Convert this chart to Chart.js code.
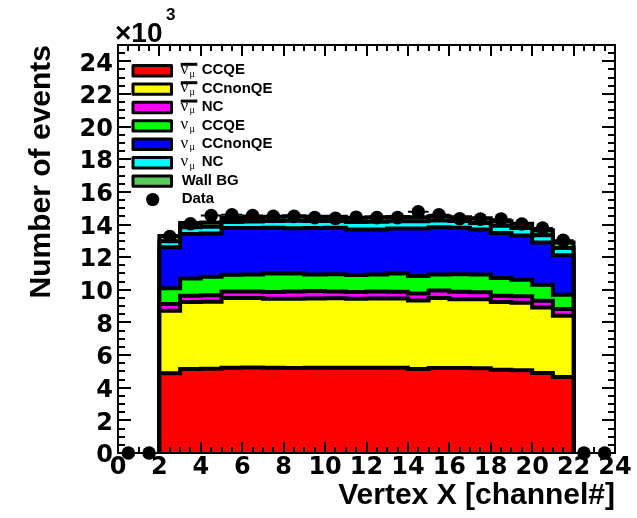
<!DOCTYPE html>
<html>
<head>
<meta charset="utf-8">
<script src="https://cdn.jsdelivr.net/npm/chart.js@4.4.1/dist/chart.umd.min.js"></script>
<style>
  html, body { margin: 0; padding: 0; background: #fff; }
  canvas { display: block; }
</style>
</head>
<body>
<canvas id="c" width="637" height="518"></canvas>
<script>
// Bin edges of the filled channels (bins 2..21, upper edge 22)
const binEdges = [2, 3, 4, 5, 6, 7, 8, 9, 10, 11, 12, 13, 14, 15, 16, 17, 18, 19, 20, 21, 22];

// Predicted events per bin, one array per component (bottom of stack first)
const antiNumuCCQE    = [4880, 5150, 5170, 5230, 5240, 5220, 5210, 5220, 5230, 5220, 5220, 5220, 5150, 5210, 5210, 5200, 5100, 5070, 4900, 4660];
const antiNumuCCnonQE = [3840, 4100, 4100, 4270, 4260, 4230, 4240, 4250, 4250, 4230, 4250, 4240, 4200, 4290, 4210, 4220, 4150, 4130, 4020, 3750];
const antiNumuNC      = [ 410,  390,  390,  400,  400,  420,  450,  450,  420,  410,  430,  420,  430,  450,  460,  430,  390,  400,  410,  410];
const numuCCQE        = [ 960, 1060, 1140, 1020, 1030, 1130, 1100, 1010, 1050, 1040, 1030, 1120, 1070,  980, 1080, 1080, 1080, 1020,  980,  880];
const numuCCnonQE     = [2510, 2720, 2650, 2860, 2850, 2800, 2770, 2850, 2850, 2800, 2770, 2750, 2900, 2900, 2840, 2770, 2760, 2710, 2590, 2410];
const numuNC          = [ 370,  410,  410,  370,  400,  420,  460,  440,  420,  450,  470,  450,  450,  420,  420,  400,  440,  450,  450,  450];
const wallBG          = [ 330,  270,  260,  250,  240,  260,  270,  260,  260,  270,  270,  260,  250,  250,  230,  280,  280,  270,  300,  340];

// Observed data, one point per channel centre
const dataCenters = [0.5, 1.5, 2.5, 3.5, 4.5, 5.5, 6.5, 7.5, 8.5, 9.5, 10.5, 11.5, 12.5, 13.5, 14.5, 15.5, 16.5, 17.5, 18.5, 19.5, 20.5, 21.5, 22.5, 23.5];
const dataCounts  = [0, 0, 13270, 14050, 14550, 14600, 14550, 14500, 14500, 14420, 14380, 14450, 14420, 14420, 14780, 14600, 14350, 14330, 14330, 14030, 13780, 13030, 0, 0];

// Axis tick labels
const xTicks = [0, 2, 4, 6, 8, 10, 12, 14, 16, 18, 20, 22, 24];
const yTicks = [0, 2000, 4000, 6000, 8000, 10000, 12000, 14000, 16000, 18000, 20000, 22000, 24000];

// Legend entries
const seriesParticle = ['antinumu', 'antinumu', 'antinumu', 'numu', 'numu', 'numu', ''];
const seriesChannel  = ['CCQE', 'CCnonQE', 'NC', 'CCQE', 'CCnonQE', 'NC', 'Wall BG'];
const seriesColors   = ['#ff0000', '#ffff00', '#ff00ff', '#00ff00', '#0000ff', '#00ffff', '#58cc58'];
const dataLabel = 'Data';

const layerValues = [antiNumuCCQE, antiNumuCCnonQE, antiNumuNC, numuCCQE, numuCCnonQE, numuNC, wallBG];

// Build cumulative step outlines for the stacked histogram
const running = antiNumuCCQE.map(() => 0);
const lastEdge = binEdges[binEdges.length - 1];
const layerDatasets = layerValues.map((vals, k) => {
  vals.forEach((v, i) => { running[i] += v; });
  const top = running.slice();
  const pts = [{ x: binEdges[0], y: 0 }];
  top.forEach((v, i) => pts.push({ x: binEdges[i], y: v }));
  pts.push({ x: lastEdge, y: top[top.length - 1] });
  pts.push({ x: lastEdge, y: 0 });
  return {
    label: seriesChannel[k],
    data: pts,
    stepped: 'before',
    fill: 'origin',
    backgroundColor: seriesColors[k],
    borderColor: '#000',
    borderWidth: 4,
    borderJoinStyle: 'miter',
    pointRadius: 0
  };
});

const dataDataset = {
  label: dataLabel,
  data: dataCenters.map((x, i) => ({ x, y: dataCounts[i] })),
  showLine: false,
  fill: false,
  pointRadius: 6.8,
  pointHoverRadius: 6.8,
  pointBackgroundColor: '#000',
  pointBorderWidth: 0,
  clip: false
};

// Frame with inside ticks on all four sides, drawn just before the data points
const framePlugin = {
  id: 'rootFrame',
  beforeDatasetDraw(chart, args) {
    if (args.index !== 0) return;
    const { ctx, chartArea: a, scales: { x, y } } = chart;
    ctx.save();
    ctx.strokeStyle = '#000';
    ctx.lineWidth = 2;
    ctx.lineCap = 'butt';
    ctx.beginPath();
    for (let v = 0; v <= 24.001; v += 0.5) {
      const px = Math.round(x.getPixelForValue(v));
      const major = Math.abs(v / 2 - Math.round(v / 2)) < 1e-6;
      const len = major ? 11 : 6;
      ctx.moveTo(px, a.bottom); ctx.lineTo(px, a.bottom - len);
      ctx.moveTo(px, a.top); ctx.lineTo(px, a.top + len);
    }
    for (let v = 0; v <= 25000; v += 500) {
      const py = Math.round(y.getPixelForValue(v));
      const major = v % 2000 === 0;
      const len = major ? 13 : 7;
      ctx.moveTo(a.left, py); ctx.lineTo(a.left + len, py);
      ctx.moveTo(a.right, py); ctx.lineTo(a.right - len, py);
    }
    ctx.stroke();
    ctx.strokeRect(a.left, a.top, a.right - a.left, a.bottom - a.top);

    // error bars of the data points
    ctx.lineWidth = 2;
    ctx.beginPath();
    dataCenters.forEach((c, i) => {
      const n = dataCounts[i];
      const py = y.getPixelForValue(n);
      ctx.moveTo(x.getPixelForValue(c - 0.5), py);
      ctx.lineTo(x.getPixelForValue(c + 0.5), py);
      const e = Math.sqrt(n);
      ctx.moveTo(x.getPixelForValue(c), y.getPixelForValue(n - e));
      ctx.lineTo(x.getPixelForValue(c), y.getPixelForValue(n + e));
    });
    ctx.stroke();
    ctx.restore();
  }
};

// Legend and exponent label
const legendPlugin = {
  id: 'rootLegend',
  afterDraw(chart) {
    const ctx = chart.ctx;
    ctx.save();
    // exponent of the y axis
    ctx.fillStyle = '#000';
    ctx.textBaseline = 'alphabetic';
    ctx.font = 'bold 28px "Liberation Sans", Arial, sans-serif';
    ctx.fillText('\u00d710', 115, 42);
    ctx.font = 'bold 17px "Liberation Sans", Arial, sans-serif';
    ctx.fillText('3', 166, 20);

    const rowY0 = 70.7, rowDy = 18.4;
    const textFont = 'bold 15px "Liberation Sans", Arial, sans-serif';
    seriesChannel.forEach((name, i) => {
      const yc = rowY0 + i * rowDy;
      ctx.lineWidth = 3;
      ctx.lineJoin = 'round';
      ctx.fillStyle = seriesColors[i];
      ctx.strokeStyle = '#000';
      ctx.beginPath();
      ctx.rect(133, yc - 5.2, 38.5, 10.4);
      ctx.fill();
      ctx.stroke();
      ctx.fillStyle = '#000';
      ctx.font = textFont;
      if (seriesParticle[i]) {
        ctx.font = '17px "Liberation Serif", "Times New Roman", serif';
        ctx.fillText('\u03bd', 180.5, yc + 3.3);
        ctx.font = '10px "Liberation Serif", "Times New Roman", serif';
        ctx.fillText('\u03bc', 189.5, yc + 5.8);
        if (seriesParticle[i] === 'antinumu') {
          ctx.lineWidth = 3;
          ctx.lineCap = 'butt';
          ctx.beginPath();
          ctx.moveTo(180.7, yc - 6.4);
          ctx.lineTo(197.3, yc - 6.4);
          ctx.stroke();
        }
        ctx.font = textFont;
        ctx.fillText(name, 201.7, yc + 3.6);
      } else {
        ctx.fillText(name, 181.7, yc + 3.6);
      }
    });
    const yd = rowY0 + seriesChannel.length * rowDy;
    ctx.beginPath();
    ctx.arc(152.7, yd, 6.6, 0, Math.PI * 2);
    ctx.fill();
    ctx.font = textFont;
    ctx.fillText(dataLabel, 181.7, yd + 3.6);
    ctx.restore();
  }
};

const tickFont = { family: '"DejaVu Sans", sans-serif', weight: 'bold', size: 24 };
const titleFont = { family: '"Liberation Sans", Arial, sans-serif', weight: 'bold', size: 30 };

new Chart(document.getElementById('c'), {
  type: 'line',
  data: { datasets: [dataDataset, ...layerDatasets] },
  options: {
    responsive: false,
    animation: false,
    devicePixelRatio: 1,
    layout: { padding: { top: 45, right: 22, left: 0, bottom: 0 } },
    plugins: { legend: { display: false }, tooltip: { enabled: false } },
    elements: { line: { tension: 0 } },
    scales: {
      x: {
        type: 'linear',
        min: 0,
        max: 24,
        grid: { display: false, drawTicks: false },
        border: { display: false },
        afterBuildTicks: (s) => { s.ticks = xTicks.map(v => ({ value: v })); },
        afterFit: (s) => { s.height = 65; },
        ticks: { font: tickFont, color: '#000', padding: 0, maxRotation: 0, autoSkip: false },
        title: {
          display: true, text: 'Vertex X [channel#]', align: 'end',
          font: titleFont, color: '#000', padding: { top: 0, bottom: 4 }
        }
      },
      y: {
        type: 'linear',
        min: 0,
        max: 25000,
        grid: { display: false, drawTicks: false },
        border: { display: false },
        afterBuildTicks: (s) => { s.ticks = yTicks.map(v => ({ value: v })); },
        afterFit: (s) => { s.width = 118; },
        ticks: {
          font: tickFont, color: '#000', padding: 5, labelOffset: 3, autoSkip: false,
          callback: (v) => String(v / 1000)
        },
        title: {
          display: true, text: 'Number of events', align: 'end',
          font: titleFont, color: '#000', padding: { top: 24, bottom: 0 }
        }
      }
    }
  },
  plugins: [framePlugin, legendPlugin]
});
</script>
</body>
</html>
